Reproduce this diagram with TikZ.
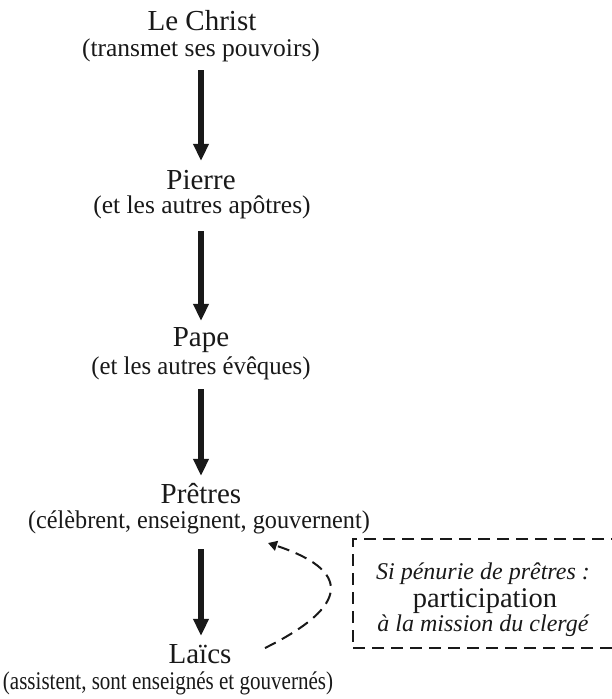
\documentclass[tikz,border=0pt]{standalone}
\usepackage{fontspec}
\usepackage{graphicx}
\setmainfont{Liberation Serif}
\usetikzlibrary{arrows.meta}
\definecolor{ink}{gray}{0.1}
\begin{document}
\begin{tikzpicture}[x=1pt, y=-1pt,
  ttl/.style={font=\fontsize{29}{29}\selectfont, text=ink, anchor=base, inner sep=0pt, text height=20pt, text depth=0pt},
  sub/.style={font=\fontsize{25.5}{25.5}\selectfont, text=ink, anchor=base, inner sep=0pt, text height=18pt, text depth=6.5pt},
  boxit/.style={font=\fontsize{24}{24}\selectfont\itshape, text=ink, anchor=base, inner sep=0pt},
  boxbig/.style={font=\fontsize{28.5}{28.5}\selectfont, text=ink, anchor=base, inner sep=0pt},
  down/.style={draw=ink, line width=6pt, -{Triangle[width=15pt,length=17pt,fill=ink]}},
  dashline/.style={draw=ink, line width=2pt, dash pattern=on 12pt off 7pt},
  dashbox/.style={dashline, rectangle, inner sep=0pt},
  back/.style={dashline, -{Triangle[width=10pt,length=9pt,fill=ink]}}
]
\fill[white] (0,0) rectangle (612,699);
\useasboundingbox (0,0) rectangle (612,699);
\clip (0,0) rectangle (612,699);

% hierarchy
\node[ttl] (christ) at (202,30) {Le Christ};
\node[sub] (s1) at (201,56) {(transmet ses pouvoirs)};
\node[ttl] (pierre) at (201,189) {Pierre};
\node[sub] (s2) at (202,213) {(et les autres apôtres)};
\node[ttl] (pape) at (201,346) {Pape};
\node[sub] (s3) at (201,374) {\scalebox{0.97}[1]{(et les autres évêques)}};
\node[ttl] (pretres) at (201,503) {Prêtres};
\node[sub] (s4) at (199,528) {\scalebox{0.95}[1]{(célèbrent, enseignent, gouvernent)}};
\node[ttl] (laics) at (200,663) {Laïcs};
\node[sub] (s5) at (168,689) {\scalebox{0.825}[1]{(assistent, sont enseignés et gouvernés)}};

% transmission arrows
\draw[down, shorten <=7.5pt, shorten >=8pt] (s1.south) -- (s1.south |- pierre.north);
\draw[down, shorten <=11.5pt, shorten >=5pt] (s2.south -| pape) -- (pape.north);
\draw[down, shorten <=8.5pt, shorten >=7pt] (s3.south) -- (pretres.north);
\draw[down, shorten <=14.5pt, shorten >=7pt] (pretres |- s4.south) -- (pretres |- laics.north);

% exception box
\node[dashbox, minimum width=261pt, minimum height=109pt] (box) at (483.5,593.5) {};
\node[boxit] (si) at (483,579.5) {Si pénurie de prêtres :};
\node[boxbig] (part) at (485,607) {participation};
\node[boxit] (mis) at (483,631) {à la mission du clergé};

% dashed return arrow
\coordinate (dstart) at (265,648);
\coordinate (dend) at (268,543);
\draw[back] (dstart) .. controls (352,605) and (350,570) .. (dend);
\end{tikzpicture}
\end{document}
